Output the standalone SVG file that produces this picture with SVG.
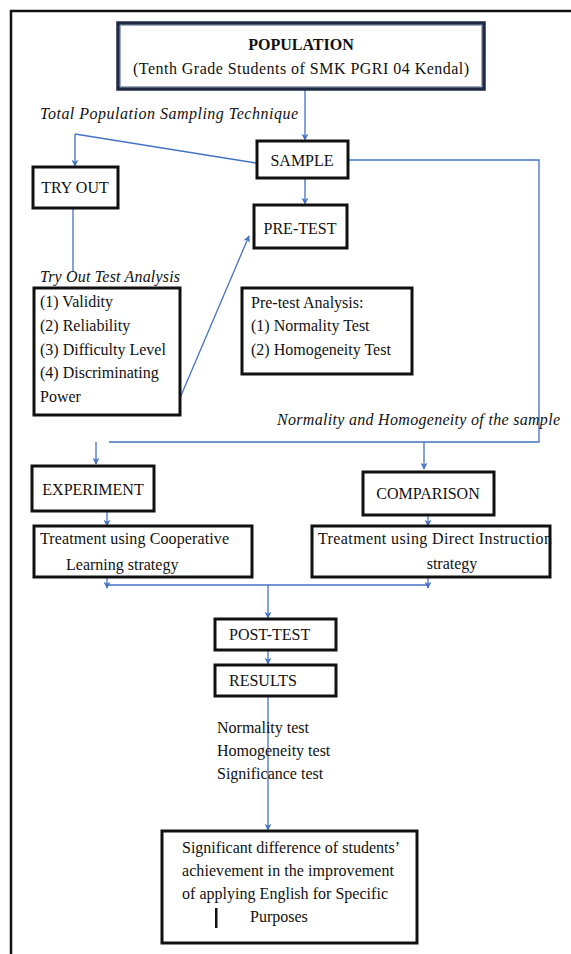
<svg xmlns="http://www.w3.org/2000/svg" width="571" height="954" viewBox="0 0 571 954">
<defs>
<marker id="ah" viewBox="0 0 10 10" refX="9" refY="5" markerWidth="7" markerHeight="7" markerUnits="userSpaceOnUse" orient="auto">
<path d="M0,0 L10,5 L0,10 L3,5 z" fill="#4472c4"/>
</marker>
<style>
.t{font-family:"Liberation Serif","Times New Roman",serif;font-size:16px;fill:#111}
.i{font-style:italic}
.b{font-weight:bold}
.box{fill:#fff;stroke:#111;stroke-width:3}
.c{fill:none;stroke:#4472c4;stroke-width:1.3}
.a{marker-end:url(#ah)}
</style>
</defs>
<rect width="571" height="954" fill="#fff"/>
<path d="M11,954 L11,11 L571,11" fill="none" stroke="#111" stroke-width="2.5"/>

<g id="connectors">
<path class="c a" d="M305,89 L305,140"/>
<path class="c" d="M256,163 L75,134"/>
<path class="c a" d="M75,134 L75,166"/>
<path class="c a" d="M305,178 L305,204"/>
<path class="c" d="M73,208 L73,272"/>
<path class="c a" d="M180,398 L249,236"/>
<path class="c" d="M348,160 L539,160 L539,442 L109,442"/>
<path class="c a" d="M96,442 L96,464"/>
<path class="c a" d="M424,442 L424,469"/>
<path class="c a" d="M107,510 L107,526"/>
<path class="c a" d="M428,514 L428,526"/>
<path class="c a" d="M107,577 L107,588"/>
<path class="c a" d="M428,577 L428,588"/>
<path class="c" d="M107,585 L428,585"/>
<path class="c a" d="M268,585 L268,618"/>
<path class="c a" d="M268,650 L268,664"/>
<path class="c a" d="M268,690 L268,830"/>
</g>

<g id="population">
<rect x="118" y="23" width="366" height="66" fill="#fff" stroke="#1f2a44" stroke-width="3.5"/>
<rect x="120.5" y="25.5" width="361" height="61" fill="none" stroke="#8a9ab8" stroke-width="0.8"/>
<text class="t b" x="301" y="50" text-anchor="middle">POPULATION</text>
<text class="t" x="301" y="74" text-anchor="middle" textLength="336">(Tenth Grade Students of SMK PGRI 04 Kendal)</text>
</g>

<g id="label-sampling">
<text class="t i" x="40" y="119" textLength="258">Total Population Sampling Technique</text>
</g>

<g id="sample">
<rect class="box" x="257" y="141" width="91" height="37"/>
<text class="t" x="302" y="166" text-anchor="middle">SAMPLE</text>
</g>

<g id="tryout">
<rect class="box" x="33" y="167" width="85" height="41"/>
<text class="t" x="75" y="193" text-anchor="middle">TRY OUT</text>
</g>

<g id="pretest">
<rect class="box" x="254" y="205" width="93" height="43"/>
<text class="t" x="300" y="234" text-anchor="middle">PRE-TEST</text>
</g>

<g id="tryout-analysis">
<text class="t i" x="40" y="282" textLength="140">Try Out Test Analysis</text>
<rect class="box" x="34" y="288" width="146" height="127"/>
<text class="t" x="40" y="307">(1) Validity</text>
<text class="t" x="40" y="331">(2) Reliability</text>
<text class="t" x="40" y="355">(3) Difficulty Level</text>
<text class="t" x="40" y="378">(4) Discriminating</text>
<text class="t" x="40" y="402">Power</text>
</g>

<g id="pretest-analysis">
<rect class="box" x="242" y="288" width="170" height="86"/>
<text class="t" x="251" y="308">Pre-test Analysis:</text>
<text class="t" x="251" y="331">(1) Normality Test</text>
<text class="t" x="251" y="355">(2) Homogeneity Test</text>
</g>

<g id="label-normality">
<text class="t i" x="277" y="425" textLength="283">Normality and Homogeneity of the sample</text>
</g>

<g id="experiment">
<rect class="box" x="32" y="466" width="122" height="45"/>
<text class="t" x="93" y="495" text-anchor="middle">EXPERIMENT</text>
</g>

<g id="comparison">
<rect class="box" x="363" y="472" width="131" height="43"/>
<text class="t" x="428" y="499" text-anchor="middle">COMPARISON</text>
</g>

<g id="treatment-cl">
<rect class="box" x="34" y="526" width="218" height="51"/>
<text class="t" x="40" y="544" textLength="189">Treatment using Cooperative</text>
<text class="t" x="66" y="570">Learning strategy</text>
</g>

<g id="treatment-di">
<rect class="box" x="312" y="526" width="238" height="51"/>
<text class="t" x="318" y="544" textLength="234">Treatment using Direct Instruction</text>
<text class="t" x="452" y="569" text-anchor="middle">strategy</text>
</g>

<g id="posttest">
<rect class="box" x="215" y="619" width="121" height="31"/>
<text class="t" x="229" y="640">POST-TEST</text>
</g>

<g id="results">
<rect class="box" x="215" y="665" width="121" height="31"/>
<text class="t" x="229" y="686">RESULTS</text>
</g>

<g id="results-tests">
<text class="t" x="217" y="733">Normality test</text>
<text class="t" x="217" y="756">Homogeneity test</text>
<text class="t" x="217" y="779">Significance test</text>
</g>

<g id="conclusion">
<rect class="box" x="162" y="831" width="255" height="112"/>
<text class="t" x="182" y="853" textLength="218">Significant difference of students’</text>
<text class="t" x="182" y="876" textLength="212">achievement in the improvement</text>
<text class="t" x="182" y="899" textLength="206">of applying English for Specific</text>
<text class="t" x="250" y="922">Purposes</text>
<rect x="215" y="908" width="2.5" height="20" fill="#111"/>
</g>
</svg>
